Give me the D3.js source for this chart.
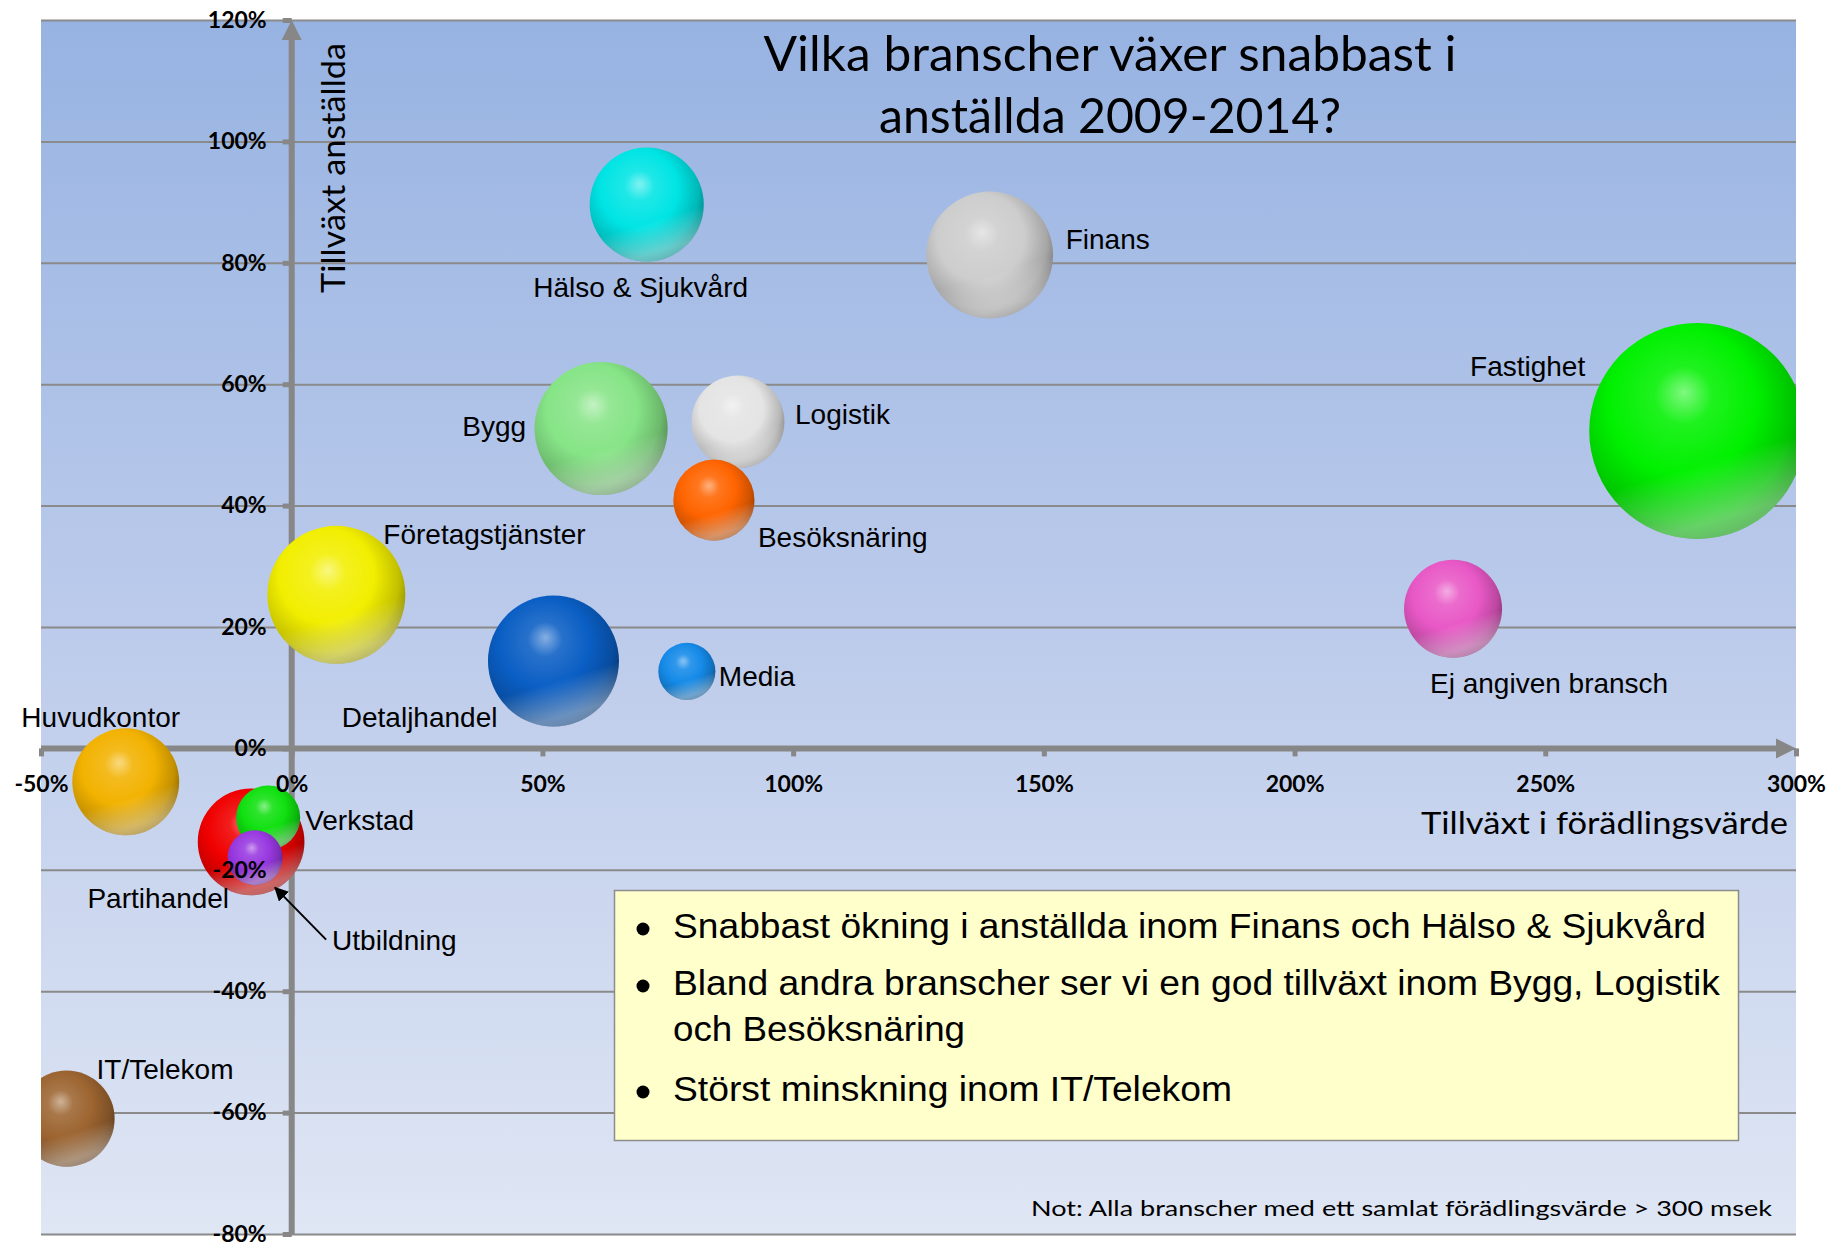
<!DOCTYPE html>
<html>
<head>
<meta charset="utf-8">
<script src="https://cdn.jsdelivr.net/npm/d3@7"></script>
<style>
  body { margin: 0; background: #fff; }
  svg { display: block; }
</style>
</head>
<body>
<svg id="chart" width="1838" height="1245"></svg>
<script>
// data, in drawing order (later bubbles on top)
const branscher = ["Fastighet", "Finans", "Hälso & Sjukvård", "Bygg", "Logistik", "Besöksnäring",
  "Företagstjänster", "Detaljhandel", "Media", "Ej angiven bransch", "Huvudkontor", "IT/Telekom",
  "Partihandel", "Verkstad", "Utbildning"];
const tillvaxtForadling = [280.3, 139.2, 70.8, 61.7, 89.0, 84.2, 8.9, 52.2, 78.8, 231.6, -33.1, -44.9, -8.1, -4.7, -7.3];
const tillvaxtAnstallda = [52.3, 81.3, 89.6, 52.7, 53.8, 40.9, 25.3, 14.4, 12.7, 23.0, -5.5, -61.0, -15.4, -11.4, -18.0];
const storlek = [10000, 3440, 2790, 3800, 1850, 1410, 4080, 3680, 700, 2060, 2450, 1980, 2440, 880, 650];

const xTicks = [-50, 0, 50, 100, 150, 200, 250, 300];
const yTicks = [-80, -60, -40, -20, 0, 20, 40, 60, 80, 100, 120];

const titel = ["Vilka branscher växer snabbast i", "anställda 2009-2014?"];
const xTitel = "Tillväxt i förädlingsvärde";
const yTitel = "Tillväxt anställda";
const punkter = [
  ["Snabbast ökning i anställda inom Finans och Hälso & Sjukvård"],
  ["Bland andra branscher ser vi en god tillväxt inom Bygg, Logistik", "och Besöksnäring"],
  ["Störst minskning inom IT/Telekom"]
];
const not = "Not: Alla branscher med ett samlat förädlingsvärde > 300 msek";

// styles
const farger = {
  "Fastighet": "#00f000", "Finans": "#cdcdcd", "Hälso & Sjukvård": "#00e4e4", "Bygg": "#86e486",
  "Logistik": "#e4e4e4", "Besöksnäring": "#ff6400", "Företagstjänster": "#f2ee00", "Detaljhandel": "#0a5ec4",
  "Media": "#158ae8", "Ej angiven bransch": "#e858c6", "Huvudkontor": "#f2b200", "IT/Telekom": "#9c6430",
  "Partihandel": "#f00000", "Verkstad": "#10e010", "Utbildning": "#9838e0"
};
// label offset from bubble centre (baseline)
const etiketter = {
  "Fastighet": [-112, -55, "end"], "Finans": [76, -6, "start"], "Hälso & Sjukvård": [-6, 92, "middle"],
  "Bygg": [-75, 7, "end"], "Logistik": [57, 2, "start"], "Besöksnäring": [44, 47, "start"],
  "Företagstjänster": [47, -51, "start"], "Detaljhandel": [-56, 66, "end"], "Media": [32, 15, "start"],
  "Ej angiven bransch": [-23, 84, "start"], "Huvudkontor": [-25, -55, "middle"], "IT/Telekom": [30, -40, "start"],
  "Partihandel": [-22, 66, "end"], "Verkstad": [37, 12, "start"], "Utbildning": [77, 92, "start"]
};

const svg = d3.select("#chart");
const defs = svg.append("defs");

const x = d3.scaleLinear().domain([-50, 300]).range([41, 1796]);
const y = d3.scaleLinear().domain([-80, 120]).range([1234, 20]);
const r = d3.scaleSqrt().domain([0, 10000]).range([0, 108]);

const [x0, x1] = x.range();
const [y1, y0] = y.range();

// background gradient
const bg = defs.append("linearGradient").attr("id", "bg").attr("x1", 0).attr("y1", 0).attr("x2", 0).attr("y2", 1);
bg.append("stop").attr("offset", 0).attr("stop-color", "#97b3e2");
bg.append("stop").attr("offset", 0.5).attr("stop-color", "#bccbeb");
bg.append("stop").attr("offset", 1).attr("stop-color", "#dfe6f4");

svg.append("rect").attr("x", x0).attr("y", y0).attr("width", x1 - x0).attr("height", y1 - y0).attr("fill", "url(#bg)");

defs.append("clipPath").attr("id", "plotclip")
  .append("rect").attr("x", x0).attr("y", y0).attr("width", x1 - x0).attr("height", y1 - y0);

// gridlines
svg.append("g")
  .attr("transform", `translate(${x0},0)`)
  .call(d3.axisLeft(y).tickValues(yTicks).tickSize(-(x1 - x0)).tickFormat(""))
  .call(g => g.select(".domain").remove())
  .call(g => g.selectAll("line").attr("stroke", "#8a8a8a").attr("stroke-width", 2));

// axis lines with arrows
const axisGrey = "#878787";
svg.append("line").attr("x1", x(0)).attr("x2", x(0)).attr("y1", y1).attr("y2", y(120) + 16)
  .attr("stroke", axisGrey).attr("stroke-width", 6);
svg.append("path")
  .attr("d", `M${x(0)},${y(120)} L${x(0) - 10},${y(120) + 20} L${x(0) + 10},${y(120) + 20} Z`)
  .attr("fill", axisGrey);
svg.append("line").attr("x1", x0).attr("x2", x(300) - 16).attr("y1", y(0)).attr("y2", y(0))
  .attr("stroke", axisGrey).attr("stroke-width", 6);
svg.append("path")
  .attr("d", `M${x(300)},${y(0)} L${x(300) - 20},${y(0) - 10} L${x(300) - 20},${y(0) + 10} Z`)
  .attr("fill", axisGrey);

// tick marks
svg.append("g")
  .attr("transform", `translate(${x(0)},0)`)
  .call(d3.axisLeft(y).tickValues(yTicks).tickSize(9).tickFormat(""))
  .call(g => g.select(".domain").remove())
  .call(g => g.selectAll("line").attr("stroke", axisGrey).attr("stroke-width", 5));
svg.append("g")
  .attr("transform", `translate(0,${y(0)})`)
  .call(d3.axisBottom(x).tickValues(xTicks).tickSize(8).tickFormat(""))
  .call(g => g.select(".domain").remove())
  .call(g => g.selectAll("line").attr("stroke", axisGrey).attr("stroke-width", 5));

// sphere gradients
branscher.forEach((b, i) => {
  const base = d3.color(farger[b]);
  const g = defs.append("radialGradient").attr("id", "sf" + i)
    .attr("cx", 0.42).attr("cy", 0.4).attr("r", 0.66).attr("fx", 0.44).attr("fy", 0.32);
  g.append("stop").attr("offset", 0).attr("stop-color", d3.interpolateRgb(base, "#fff")(0.5));
  g.append("stop").attr("offset", 0.2).attr("stop-color", d3.interpolateRgb(base, "#fff")(0.12));
  g.append("stop").attr("offset", 0.52).attr("stop-color", base);
  g.append("stop").attr("offset", 0.8).attr("stop-color", base.darker(0.6));
  g.append("stop").attr("offset", 0.94).attr("stop-color", base.darker(1.4));
  g.append("stop").attr("offset", 1).attr("stop-color", base.darker(1.1));
});
const refl = defs.append("linearGradient").attr("id", "refl").attr("x1", 0).attr("y1", 0).attr("x2", 0.3).attr("y2", 1);
refl.append("stop").attr("offset", 0.74).attr("stop-color", "#fff").attr("stop-opacity", 0);
refl.append("stop").attr("offset", 1).attr("stop-color", "#fff").attr("stop-opacity", 0.4);

const bubbles = branscher.map((b, i) => ({
  namn: b, fx: tillvaxtForadling[i], fy: tillvaxtAnstallda[i], s: storlek[i], i
}));

const bubbleLayer = svg.append("g").attr("clip-path", "url(#plotclip)");
const bg2 = bubbleLayer.selectAll("g.bubble").data(bubbles).enter().append("g").attr("class", "bubble");
bg2.append("circle")
  .attr("cx", d => x(d.fx)).attr("cy", d => y(d.fy)).attr("r", d => r(d.s))
  .attr("fill", d => `url(#sf${d.i})`);
bg2.append("circle")
  .attr("cx", d => x(d.fx)).attr("cy", d => y(d.fy)).attr("r", d => r(d.s))
  .attr("fill", "url(#refl)");

// bubble labels
svg.append("g").selectAll("text").data(bubbles).enter().append("text")
  .attr("x", d => x(d.fx) + etiketter[d.namn][0])
  .attr("y", d => y(d.fy) + etiketter[d.namn][1])
  .attr("text-anchor", d => etiketter[d.namn][2])
  .attr("font-family", "Liberation Sans, Arial, sans-serif")
  .attr("font-size", 28)
  .attr("fill", "#000")
  .text(d => d.namn);

// arrow to Utbildning
defs.append("marker").attr("id", "pil").attr("viewBox", "0 0 10 10").attr("refX", 9).attr("refY", 5)
  .attr("markerWidth", 7).attr("markerHeight", 7).attr("orient", "auto-start-reverse")
  .append("path").attr("d", "M0,0 L10,5 L0,10 Z").attr("fill", "#000");
const utb = bubbles.find(d => d.namn === "Utbildning");
svg.append("line")
  .attr("x1", x(utb.fx) + 71).attr("y1", y(utb.fy) + 82)
  .attr("x2", x(utb.fx) + 20).attr("y2", y(utb.fy) + 30)
  .attr("stroke", "#000").attr("stroke-width", 2).attr("marker-end", "url(#pil)");

// tick labels (on top)
svg.append("g")
  .attr("transform", `translate(${x(0)},0)`)
  .call(d3.axisLeft(y).tickValues(yTicks).tickSize(9).tickPadding(16).tickFormat(d => d + "%"))
  .call(g => g.select(".domain").remove())
  .call(g => g.selectAll("line").remove())
  .call(g => g.selectAll("text").attr("font-family", "Lato, sans-serif").attr("font-weight", "bold")
    .attr("font-size", 23).attr("fill", "#000"));
svg.append("g")
  .attr("transform", `translate(0,${y(0)})`)
  .call(d3.axisBottom(x).tickValues(xTicks).tickSize(8).tickPadding(19).tickFormat(d => d + "%"))
  .call(g => g.select(".domain").remove())
  .call(g => g.selectAll("line").remove())
  .call(g => g.selectAll("text").attr("font-family", "Lato, sans-serif").attr("font-weight", "bold")
    .attr("font-size", 23).attr("fill", "#000"));

// axis titles
svg.append("text")
  .attr("transform", "translate(345,293) rotate(-90)")
  .attr("font-family", "Lato, sans-serif").attr("font-size", 32)
  .attr("textLength", 250).attr("lengthAdjust", "spacingAndGlyphs")
  .text(yTitel);
svg.append("text")
  .attr("x", 1788).attr("y", 834).attr("text-anchor", "end")
  .attr("font-family", "Lato, sans-serif").attr("font-size", 31)
  .attr("textLength", 367).attr("lengthAdjust", "spacingAndGlyphs")
  .text(xTitel);

// title
const titleLengths = [693, 462];
svg.append("g").selectAll("text").data(titel).enter().append("text")
  .attr("x", 1110).attr("y", (d, i) => 71 + i * 62)
  .attr("text-anchor", "middle")
  .attr("font-family", "Lato, sans-serif").attr("font-size", 48)
  .attr("textLength", (d, i) => titleLengths[i]).attr("lengthAdjust", "spacingAndGlyphs")
  .text(d => d);

// text box
svg.append("rect").attr("x", 614.5).attr("y", 890.5).attr("width", 1124).attr("height", 250)
  .attr("fill", "#ffffcc").attr("stroke", "#8c8c8c").attr("stroke-width", 1.5);
const radLangd = [[1033], [1047, 292], [559]];
const radY = [[938], [995, 1041], [1101]];
punkter.forEach((p, i) => {
  svg.append("circle").attr("cx", 643).attr("cy", radY[i][0] - 9).attr("r", 6.5).attr("fill", "#000");
  p.forEach((t, j) => {
    svg.append("text")
      .attr("x", 673).attr("y", radY[i][j])
      .attr("font-family", "Liberation Sans, Arial, sans-serif").attr("font-size", 35)
      .attr("textLength", radLangd[i][j]).attr("lengthAdjust", "spacingAndGlyphs")
      .text(t);
  });
});

// note
svg.append("text")
  .attr("x", 1772).attr("y", 1216).attr("text-anchor", "end")
  .attr("font-family", "Lato, sans-serif").attr("font-size", 22)
  .attr("textLength", 741).attr("lengthAdjust", "spacingAndGlyphs")
  .text(not);
</script>
</body>
</html>
